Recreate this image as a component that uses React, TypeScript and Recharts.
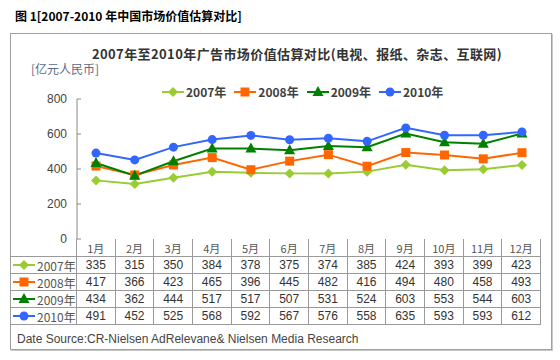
import { LineChart, Line, XAxis, YAxis, Legend } from "recharts";

const months = ["1月", "2月", "3月", "4月", "5月", "6月", "7月", "8月", "9月", "10月", "11月", "12月"];
const y2007 = [335, 315, 350, 384, 378, 375, 374, 385, 424, 393, 399, 423];
const y2008 = [417, 366, 423, 465, 396, 445, 482, 416, 494, 480, 458, 493];
const y2009 = [434, 362, 444, 517, 517, 507, 531, 524, 603, 553, 544, 603];
const y2010 = [491, 452, 525, 568, 592, 567, 576, 558, 635, 593, 593, 612];
const yTicks = [0, 200, 400, 600, 800];

type Shape = "diamond" | "square" | "triangle" | "circle";

const seriesList: { key: string; values: number[]; color: string; shape: Shape }[] = [
  { key: "2007年", values: y2007, color: "#99cc33", shape: "diamond" },
  { key: "2008年", values: y2008, color: "#ff6600", shape: "square" },
  { key: "2009年", values: y2009, color: "#008000", shape: "triangle" },
  { key: "2010年", values: y2010, color: "#3366ff", shape: "circle" },
];

const data = months.map((m, i) => {
  const row: Record<string, string | number> = { month: m };
  seriesList.forEach((s) => (row[s.key] = s.values[i]));
  return row;
});

const FONT = "'Liberation Sans', Arial, 'Noto Sans CJK SC', sans-serif";
const CJK = "'Noto Sans CJK SC', 'Liberation Sans', sans-serif";
const BORDER = "1px solid #9a9a9a";

function Marker({ shape, cx, cy, color }: { shape: Shape; cx: number; cy: number; color: string }) {
  switch (shape) {
    case "diamond":
      return <polygon points={`${cx},${cy - 5} ${cx + 5},${cy} ${cx},${cy + 5} ${cx - 5},${cy}`} fill={color} />;
    case "square":
      return <rect x={cx - 4.5} y={cy - 4.5} width={9} height={9} fill={color} />;
    case "triangle":
      return <polygon points={`${cx},${cy - 6} ${cx + 5.5},${cy + 4} ${cx - 5.5},${cy + 4}`} fill={color} />;
    default:
      return <circle cx={cx} cy={cy} r={4.5} fill={color} />;
  }
}

function LegendIcon({ s }: { s: (typeof seriesList)[number] }) {
  return (
    <svg width={22} height={12} style={{ display: "block" }}>
      <line x1={0} y1={6} x2={22} y2={6} stroke={s.color} strokeWidth={2} />
      <Marker shape={s.shape} cx={11} cy={6} color={s.color} />
    </svg>
  );
}

function TopLegend() {
  return (
    <div style={{ display: "flex", gap: 8, fontFamily: CJK, fontSize: 12, fontWeight: 700, color: "#404040" }}>
      {seriesList.map((s) => (
        <div key={s.key} style={{ display: "flex", alignItems: "center", gap: 2 }}>
          <LegendIcon s={s} />
          <span>{s.key}</span>
        </div>
      ))}
    </div>
  );
}

function YTick(props: any) {
  const { x, y, payload } = props;
  const axisX = x + 10;
  return (
    <g>
      <text x={x} y={y} dy={4} textAnchor="end" fontSize={12} fill="#444" fontFamily={FONT}>
        {payload.value}
      </text>
      <line x1={axisX} y1={y} x2={axisX + 4} y2={y} stroke="#888" />
    </g>
  );
}

export default function App() {
  const cell = {
    borderRight: BORDER,
    borderBottom: BORDER,
    display: "flex",
    alignItems: "center",
    justifyContent: "center",
    boxSizing: "border-box" as const,
  };
  return (
    <div style={{ position: "absolute", left: 0, top: 0, width: 560, height: 360, background: "#fff", fontFamily: FONT }}>
      <div style={{ position: "absolute", left: 15, top: 7, fontFamily: CJK, fontSize: 12, fontWeight: 700, color: "#000" }}>
        图 1[2007-2010 年中国市场价值估算对比]
      </div>
      <div
        style={{
          position: "absolute",
          left: 10,
          top: 33,
          width: 542,
          height: 317,
          border: "1px solid #a0a0a0",
          boxShadow: "1px 1px 0 #c8c8c8",
          boxSizing: "border-box",
        }}
      />
      <div
        style={{
          position: "absolute",
          left: 0,
          width: 594,
          top: 44,
          textAlign: "center",
          fontFamily: CJK,
          fontSize: 13,
          fontWeight: 700,
          color: "#333",
          letterSpacing: 0.4,
        }}
      >
        2007年至2010年广告市场价值估算对比(电视、报纸、杂志、互联网)
      </div>
      <div style={{ position: "absolute", left: 31, top: 60, fontFamily: CJK, fontSize: 12, color: "#5a6a85" }}>
        [亿元人民币]
      </div>
      <div style={{ position: "absolute", left: 0, top: 0 }}>
        <LineChart width={560} height={360} data={data} margin={{ top: 82, right: 19, bottom: 121, left: 27 }}>
          <XAxis
            dataKey="month"
            tick={false}
            height={0}
            axisLine={{ stroke: "#888" }}
            tickLine={false}
            padding={{ left: 19, right: 19 }}
          />
          <YAxis
            width={50}
            domain={[0, 800]}
            ticks={yTicks}
            tick={<YTick />}
            tickSize={0}
            tickMargin={10}
            axisLine={{ stroke: "#888" }}
            tickLine={false}
          />
          <Legend
            verticalAlign="top"
            content={() => <TopLegend />}
            wrapperStyle={{ position: "absolute", top: 83, left: 162, width: "auto" }}
          />
          {seriesList.map((s) => (
            <Line
              key={s.key}
              dataKey={s.key}
              stroke={s.color}
              strokeWidth={2}
              isAnimationActive={false}
              dot={(p: any) => <Marker key={`${s.key}-${p.index}`} shape={s.shape} cx={p.cx} cy={p.cy} color={s.color} />}
            />
          ))}
        </LineChart>
      </div>
      <div
        style={{
          position: "absolute",
          left: 10,
          top: 239,
          width: 531,
          display: "grid",
          gridTemplateColumns: "67px repeat(12, 1fr)",
          gridTemplateRows: "18px repeat(4, 17px)",
          fontSize: 12,
          color: "#333",
        }}
      >
        <div style={{ ...cell }} />
        {months.map((m) => (
          <div key={m} style={{ ...cell, fontFamily: CJK, fontSize: 11, color: "#555" }}>
            {m}
          </div>
        ))}
        {seriesList.map((s) => (
          <>
            <div key={s.key + "-h"} style={{ ...cell, justifyContent: "flex-start", paddingLeft: 3, gap: 2 }}>
              <LegendIcon s={s} />
              <span style={{ fontFamily: CJK, fontSize: 12, color: "#555" }}>{s.key}</span>
            </div>
            {s.values.map((v, i) => (
              <div key={s.key + i} style={{ ...cell }}>
                {v}
              </div>
            ))}
          </>
        ))}
      </div>
      <div style={{ position: "absolute", left: 17, top: 332, fontSize: 12, color: "#444" }}>
        Date Source:CR-Nielsen AdRelevane&amp; Nielsen Media Research
      </div>
    </div>
  );
}
